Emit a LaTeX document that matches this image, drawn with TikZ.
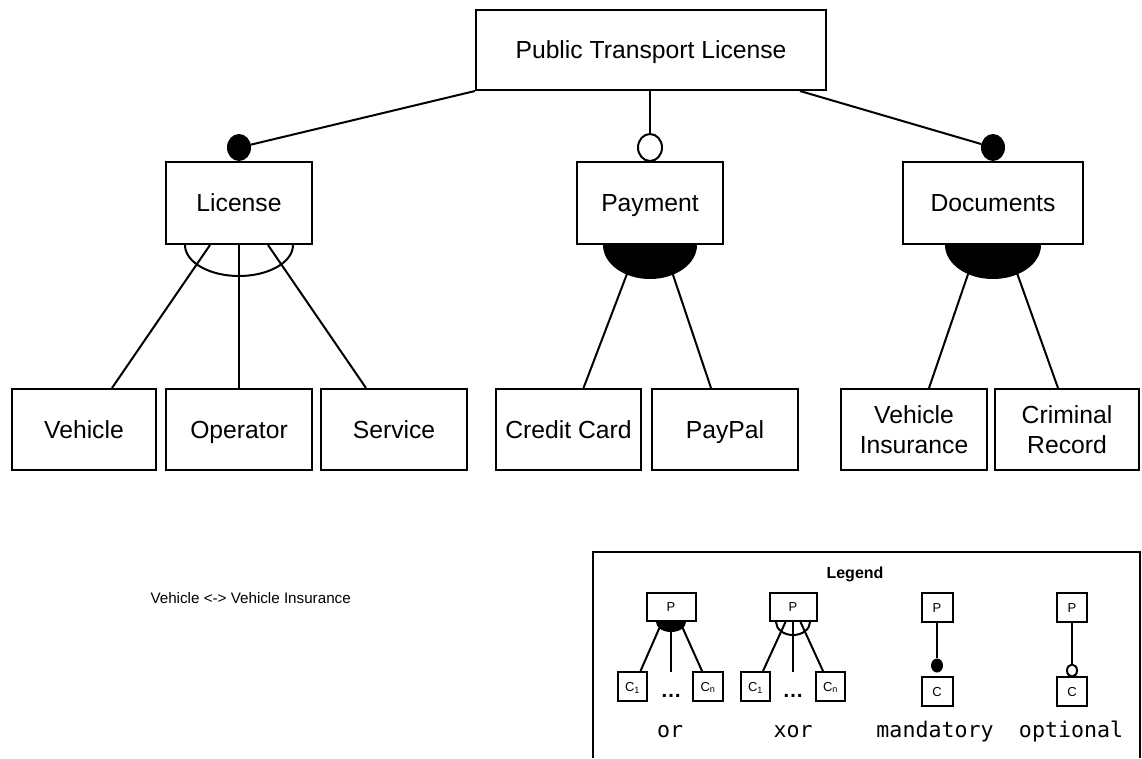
\documentclass[tikz,border=0pt]{standalone}
\usepackage{fontspec}
\setmainfont{Liberation Sans}
\newfontfamily\legendmono{DejaVu Sans Mono}
\usetikzlibrary{shapes.geometric}
\begin{document}
\begin{tikzpicture}[x=1pt,y=-1pt,
  feat/.style={draw,line width=2pt,rectangle,inner sep=0pt,fill=white,
    align=center,font=\fontsize{24.7}{29.6}\selectfont,minimum height=81pt},
  featone/.style={feat,text height=17.7pt,text depth=0pt},
  conn/.style={line width=2pt},
  mandot/.style={ellipse,fill=black,inner sep=0pt,minimum width=24pt,minimum height=27pt},
  optdot/.style={ellipse,draw,line width=2pt,fill=white,inner sep=0pt,minimum width=24pt,minimum height=27pt},
  lbox/.style={draw,line width=2pt,rectangle,inner sep=0pt,fill=white,
    font=\fontsize{13}{15}\selectfont,text height=9.3pt,text depth=0pt},
  lconn/.style={line width=2pt},
  lmandot/.style={ellipse,fill=black,inner sep=0pt,minimum width=12pt,minimum height=14pt},
  loptdot/.style={ellipse,draw,line width=2pt,fill=white,inner sep=0pt,minimum width=10pt,minimum height=12pt},
  lname/.style={anchor=base,font=\legendmono\fontsize{21.6}{24}\selectfont},
  ldots/.style={anchor=base,font=\bfseries\fontsize{21}{24}\selectfont}]
\useasboundingbox (0,0) rectangle (1142,758);

% feature boxes
\node[featone,minimum width=350pt,minimum height=80pt] (root) at (651,50) {Public Transport License};
\node[featone,minimum width=146pt,minimum height=82pt] (lic) at (239,203) {License};
\node[featone,minimum width=146pt,minimum height=82pt] (pay) at (650,203) {Payment};
\node[featone,minimum width=180pt,minimum height=82pt] (doc) at (993,203) {Documents};

\node[featone,minimum width=144pt] (veh) at (84,429.5) {Vehicle};
\node[featone,minimum width=146pt] (ope) at (239,429.5) {Operator};
\node[featone,minimum width=146pt] (ser) at (394,429.5) {Service};
\node[featone,minimum width=145pt] (cc) at (568.5,429.5) {Credit Card};
\node[featone,minimum width=146pt] (pp) at (725,429.5) {PayPal};
\node[feat,minimum width=146pt] (vi) at (914,429.5) {Vehicle\\Insurance};
\node[feat,minimum width=144pt] (cr) at (1067,429.5) {Criminal\\Record};

% mandatory / optional markers
\node[mandot] (licdot) at (239,147.5) {};
\node[optdot] (paydot) at (650,147.5) {};
\node[mandot] (docdot) at (993,147.5) {};

\draw[conn] (root.south west) -- (licdot);
\draw[conn] (root.south -| paydot) -- (paydot);
\draw[conn] ([xshift=-27pt]root.south east) -- (docdot);

% xor group under License
\draw[conn] ([xshift=-29pt]lic.south) -- ([xshift=28pt]veh.north);
\draw[conn] (lic.south) -- (ope.north);
\draw[conn] ([xshift=29pt]lic.south) -- ([xshift=-28pt]ser.north);
\draw[conn] ([xshift=-54pt]lic.south) arc[start angle=180,end angle=360,x radius=54pt,y radius=31pt];

% or group under Payment
\draw[conn] ([xshift=-12pt]pay.south) -- ([xshift=15pt]cc.north);
\draw[conn] ([xshift=13pt]pay.south) -- ([xshift=-14pt]pp.north);
\fill ([xshift=-47pt]pay.south) arc[start angle=180,end angle=360,x radius=47pt,y radius=34pt] -- cycle;

% or group under Documents
\draw[conn] ([xshift=-15pt]doc.south) -- ([xshift=15pt]vi.north);
\draw[conn] ([xshift=14pt]doc.south) -- ([xshift=-9pt]cr.north);
\fill ([xshift=-48pt]doc.south) arc[start angle=180,end angle=360,x radius=48pt,y radius=34pt] -- cycle;

% cross-tree constraint
\node[anchor=west,font=\fontsize{15.2}{18}\selectfont] (ctc) at (147,598) {Vehicle <-> Vehicle Insurance};

% legend frame
\draw[line width=2pt] (593,758) -- (593,552) -- (1140,552) -- (1140,758);
\node[font=\bfseries\fontsize{16}{19}\selectfont] (legtitle) at (855,574) {Legend};

% legend: or
\node[lbox,minimum width=49pt,minimum height=28pt] (orp) at (671,607) {P};
\node[lbox,minimum width=29pt,minimum height=29pt] (orc1) at (632.5,686.5) {C\textsubscript{1}};
\node[lbox,minimum width=30pt,minimum height=29pt] (orcn) at (708,686.5) {C\textsubscript{n}};
\coordinate (ormid) at (671,672);
\draw[lconn] ([xshift=-9pt]orp.south) -- ([xshift=8pt]orc1.north);
\draw[lconn] (orp.south) -- (ormid);
\draw[lconn] ([xshift=9pt]orp.south) -- ([xshift=-6pt]orcn.north);
\fill ([xshift=-15pt]orp.south) arc[start angle=180,end angle=360,x radius=15pt,y radius=10pt] -- cycle;
\node[ldots] (ordots) at (671,697) {…};
\node[lname] (orname) at (670,737) {or};

% legend: xor
\node[lbox,minimum width=47pt,minimum height=28pt] (xorp) at (793,607) {P};
\node[lbox,minimum width=29pt,minimum height=29pt] (xorc1) at (755.5,686.5) {C\textsubscript{1}};
\node[lbox,minimum width=29pt,minimum height=29pt] (xorcn) at (830.5,686.5) {C\textsubscript{n}};
\coordinate (xormid) at (793,672);
\draw[lconn] ([xshift=-7.5pt]xorp.south) -- ([xshift=7.5pt]xorc1.north);
\draw[lconn] (xorp.south) -- (xormid);
\draw[lconn] ([xshift=7.5pt]xorp.south) -- ([xshift=-7.5pt]xorcn.north);
\draw[lconn] ([xshift=-17pt]xorp.south) arc[start angle=180,end angle=360,x radius=17pt,y radius=13pt];
\node[ldots] (xordots) at (793,697) {…};
\node[lname] (xorname) at (793,737) {xor};

% legend: mandatory
\node[lbox,minimum width=31pt,minimum height=29pt] (manp) at (937,607.5) {P};
\node[lbox,minimum width=31pt,minimum height=29pt] (manc) at (937,691.5) {C};
\node[lmandot] (mandot) at (937,665.5) {};
\draw[lconn] (manp.south) -- (mandot);
\node[lname] (manname) at (935,737) {mandatory};

% legend: optional
\node[lbox,minimum width=30pt,minimum height=29pt] (optp) at (1072,607.5) {P};
\node[lbox,minimum width=30pt,minimum height=29pt] (optc) at (1072,691.5) {C};
\node[loptdot] (optdot) at (1072,670.5) {};
\draw[lconn] (optp.south) -- (optdot);
\node[lname] (optname) at (1071,737) {optional};
\end{tikzpicture}
\end{document}
